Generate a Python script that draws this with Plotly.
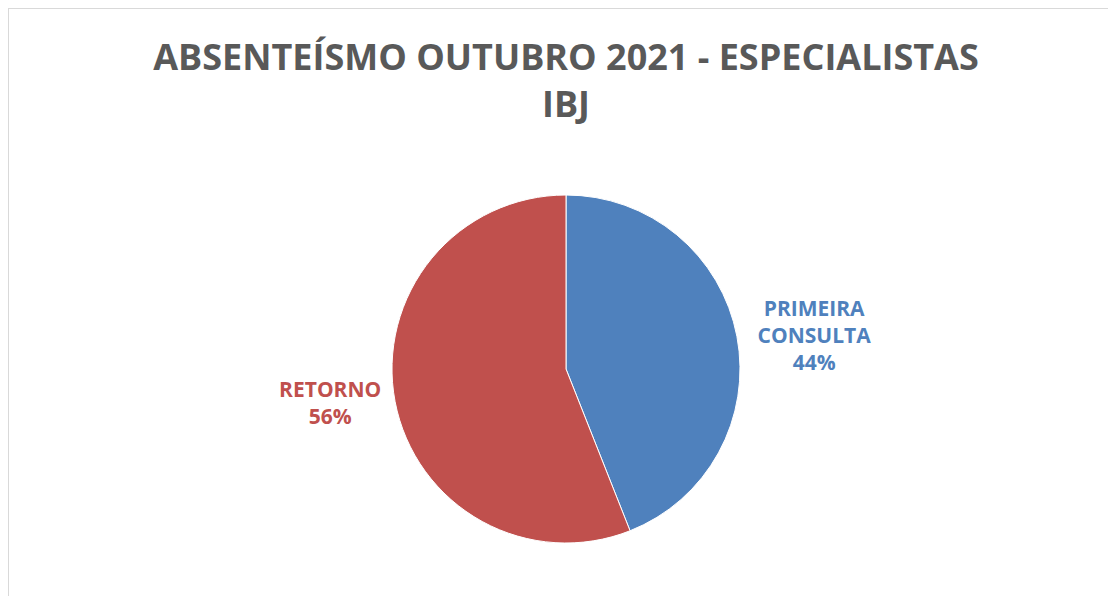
import plotly.graph_objects as go

categories = ["PRIMEIRA<br>CONSULTA", "RETORNO"]
values = [44, 56]
colors = ["#4F81BD", "#C0504D"]
title_text = "ABSENTEÍSMO OUTUBRO 2021 - ESPECIALISTAS<br>IBJ"

W, H = 1116, 596
# the page body adds an 8px offset, so the pie sits at (558, 361) in figure coords
ml, mr, mt, mb = 200, 200, 187, 61
pw, ph = W - ml - mr, H - mt - mb

fig = go.Figure(
    go.Pie(
        labels=categories,
        values=values,
        sort=False,
        direction="clockwise",
        rotation=0,
        marker=dict(colors=colors, line=dict(color="white", width=1)),
        textposition="outside",
        texttemplate="%{label}<br>%{percent:.0%}",
        textfont=dict(family="Open Sans", size=21, color=colors, weight="bold"),
        showlegend=False,
        automargin=False,
        hoverinfo="label+percent",
    )
)

# light grey chart border (only left and top edges end up visible)
fig.add_shape(
    type="rect",
    xref="paper", yref="paper",
    x0=-ml / pw, x1=1 + mr / pw,
    y0=-mb / ph, y1=1 + mt / ph,
    line=dict(color="#D9D9D9", width=2),
    fillcolor="rgba(0,0,0,0)",
)

fig.update_layout(
    width=W, height=H,
    margin=dict(l=ml, r=mr, t=mt, b=mb, autoexpand=False),
    paper_bgcolor="white",
    title=dict(
        text=title_text,
        x=558 / W, xanchor="center",
        y=1 - 62 / H, yanchor="top",
        font=dict(family="Open Sans", size=36, color="#595959", weight="bold"),
    ),
)

fig.write_html("out.html")
